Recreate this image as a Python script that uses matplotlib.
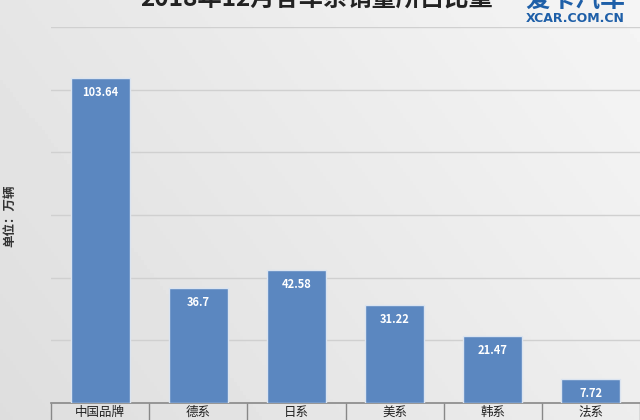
import numpy as np
import matplotlib.pyplot as plt

plt.rcParams['font.family'] = ['Noto Sans CJK SC', 'DejaVu Sans']

# datos
categorias = ['中国品牌', '德系', '日系', '美系', '韩系', '法系']
ventas = [103.64, 36.7, 42.58, 31.22, 21.47, 7.72]
etiquetas = ['103.64', '36.7', '42.58', '31.22', '21.47', '7.72']

fig = plt.figure(figsize=(6.4, 4.2), dpi=100, facecolor='#ebebeb')

# fondo con degradado suave
fondo = fig.add_axes([0, 0, 1, 1], zorder=-1)
gx = np.linspace(0, 1, 200)
gy = np.linspace(0, 1, 100)
grad = 0.87 + 0.06 * gx[None, :] + 0.03 * gy[:, None]
fondo.imshow(grad, cmap='gray', vmin=0, vmax=1, aspect='auto', origin='lower',
             extent=[0, 1, 0, 1])
fondo.axis('off')

ax = fig.add_axes([0.0797, 0.0405, 0.9203, 0.8955])
ax.patch.set_alpha(0)

x = np.arange(len(categorias))
barras = ax.bar(x, ventas, width=0.6, color='#5b87c0', edgecolor='#dbe4f0', linewidth=1.0, zorder=3)

for b, t in zip(barras, etiquetas):
    ax.annotate(t, (b.get_x() + b.get_width() / 2, b.get_height()),
                xytext=(0, -6), textcoords='offset points', ha='center', va='top',
                color='white', fontsize=8, fontweight='bold', zorder=4)

ax.set_xlim(-0.5, len(categorias) - 0.5)
ax.set_ylim(0, 120)
ax.set_yticks(np.arange(20, 121, 20))
ax.yaxis.grid(True, color='#d0d0d0', linewidth=1.0, zorder=0)
ax.tick_params(axis='y', length=0, labelleft=False)

ax.set_xticks(x)
ax.set_xticklabels(categorias, fontsize=9, color='#222222')
ax.set_xticks(np.arange(-0.5, len(categorias), 1), minor=True)
ax.tick_params(axis='x', which='major', length=0, pad=2)
ax.tick_params(axis='x', which='minor', length=18, width=1, color='#888888', direction='out')

for s in ['top', 'right', 'left']:
    ax.spines[s].set_visible(False)
ax.spines['bottom'].set_color('#888888')
ax.spines['bottom'].set_linewidth(1.2)

fig.text(0.016, 0.486, '单位：万辆', rotation=90, ha='center', va='center',
         fontsize=9, fontweight='bold', color='#333333')

# titulo recortado arriba
fig.text(0.494, 1.004, '2018年12月各车系销量所占比重', ha='center', va='center',
         fontsize=17.5, fontweight='bold', color='#222222')

# logo
fig.text(0.898, 1.0, '爱卡汽车', ha='center', va='center', fontsize=18,
         fontweight='bold', color='#1e5fa8')
fig.text(0.898, 0.956, 'XCAR.COM.CN', ha='center', va='center', fontsize=9,
         fontweight='bold', color='#1e5fa8', family=['DejaVu Sans'])

fig.savefig('out.png', dpi=100, facecolor=fig.get_facecolor())
